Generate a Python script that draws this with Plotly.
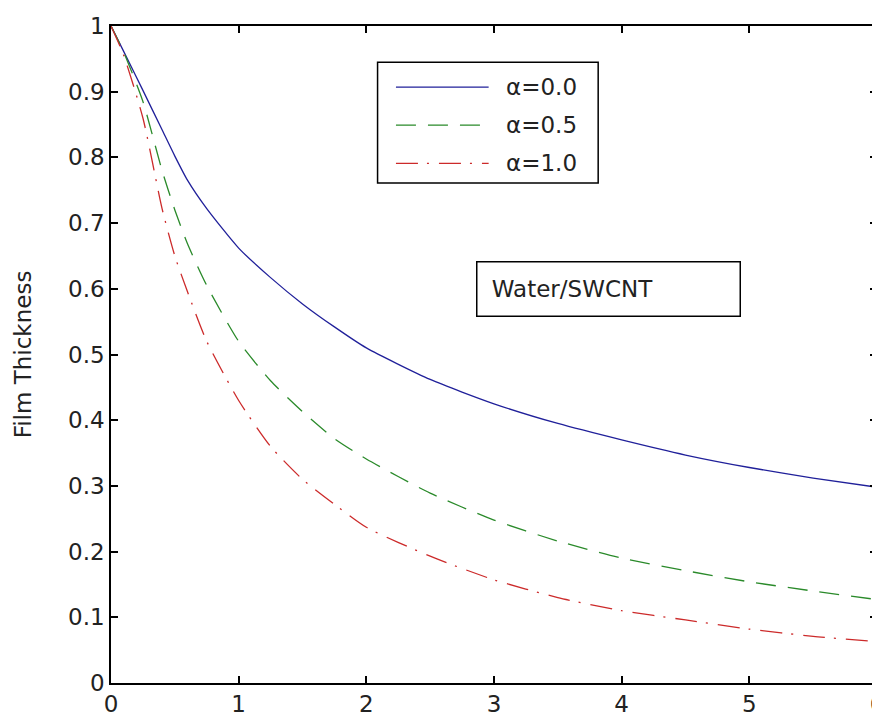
import plotly.graph_objects as go

# data
x_vals = [0, 0.1, 0.25, 0.4, 0.5, 0.6, 0.75, 1, 1.25, 1.5, 1.75, 2, 2.5, 3, 3.5, 4, 4.5, 5, 5.5, 6]
film_a00 = [1.0, 0.961, 0.902, 0.842, 0.802, 0.765, 0.722, 0.662, 0.617, 0.577, 0.542, 0.51, 0.462, 0.425, 0.395, 0.37, 0.347, 0.328, 0.312, 0.298]
film_a05 = [1.0, 0.96, 0.885, 0.78, 0.72, 0.668, 0.605, 0.52, 0.46, 0.413, 0.372, 0.341, 0.289, 0.248, 0.216, 0.19, 0.171, 0.154, 0.14, 0.127]
film_a10 = [1.0, 0.955, 0.86, 0.722, 0.65, 0.595, 0.52, 0.43, 0.36, 0.31, 0.272, 0.237, 0.193, 0.157, 0.13, 0.11, 0.096, 0.082, 0.071, 0.063]
series_names = ["α=0.0", "α=0.5", "α=1.0"]
x_ticks = [0, 1, 2, 3, 4, 5, 6]
y_ticks = [0, 0.1, 0.2, 0.3, 0.4, 0.5, 0.6, 0.7, 0.8, 0.9, 1]
y_tick_text = ["0", "0.1", "0.2", "0.3", "0.4", "0.5", "0.6", "0.7", "0.8", "0.9", "1"]

FONT = "DejaVu Sans"
styles = [
    dict(color="#20209a", dash="solid"),
    dict(color="#2a8a2a", dash="20px,12px"),
    dict(color="#cc2a2a", dash="22px,9px,2px,10px"),
]

fig = go.Figure()
for ys, name, st in zip([film_a00, film_a05, film_a10], series_names, styles):
    fig.add_trace(go.Scatter(
        x=x_vals, y=ys, mode="lines", name=name, showlegend=False,
        line=dict(color=st["color"], dash=st["dash"], width=1.3, shape="spline", smoothing=0.6),
    ))

# hand-made legend box (long line samples like the original)
leg_x0, leg_x1, leg_y0, leg_y1 = 0.348, 0.636, 0.761, 0.945
row_y = [0.907, 0.849, 0.791]
fig.add_shape(type="rect", xref="paper", yref="paper", x0=leg_x0, x1=leg_x1, y0=leg_y0, y1=leg_y1,
              line=dict(color="black", width=1.5), fillcolor="white")
for ry, name, st in zip(row_y, series_names, styles):
    fig.add_shape(type="line", xref="paper", yref="paper", x0=0.372, x1=0.493, y0=ry, y1=ry,
                  line=dict(color=st["color"], dash=st["dash"], width=1.3))
    fig.add_annotation(x=0.513, y=ry, xref="paper", yref="paper", text=name, showarrow=False,
                       xanchor="left", yanchor="middle", font=dict(family=FONT, size=23, color="#222"))

fig.add_annotation(x=0.476, y=0.600, xref="paper", yref="paper", text="&nbsp;Water/SWCNT",
                   showarrow=False, xanchor="left", yanchor="middle", align="left",
                   width=248, height=39, borderpad=7, bordercolor="black", borderwidth=1.5,
                   bgcolor="white", font=dict(family=FONT, size=23, color="#222"))

axis_common = dict(showline=True, linecolor="black", linewidth=1.5, mirror="ticks",
                   ticks="inside", ticklen=7, tickcolor="black", tickwidth=1.5,
                   showgrid=False, zeroline=False, automargin=False, ticklabeloverflow="allow",
                   tickfont=dict(family=FONT, size=23, color="#222"))

# page body has an 8px margin, so the figure is sized 872x711 to fill the window
fig.update_layout(
    width=872, height=711,
    margin=dict(l=103, r=3, t=18, b=36),
    paper_bgcolor="white", plot_bgcolor="white",
    xaxis=dict(range=[0, 6], tickvals=x_ticks, **axis_common),
    yaxis=dict(range=[0, 1], tickvals=y_ticks, ticktext=y_tick_text,
               title=dict(text="Film Thickness", standoff=30, font=dict(family=FONT, size=23, color="#222")),
               **axis_common),
)

fig.write_html("out.html")
